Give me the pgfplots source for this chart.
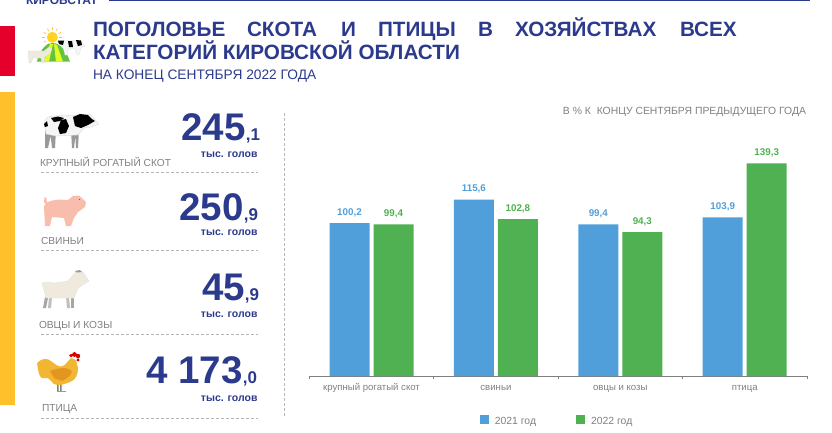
\documentclass[border=0pt]{standalone}
\usepackage{fontspec}
\setmainfont{Liberation Sans}
\usepackage{pgfplots}
\pgfplotsset{compat=1.18}
\definecolor{navy}{HTML}{2B3A8C}
\definecolor{gr}{HTML}{808080}
\definecolor{blue21}{HTML}{509FDB}
\definecolor{green22}{HTML}{4FB152}
\definecolor{redbar}{HTML}{E4002B}
\definecolor{yel}{HTML}{FFC02B}
\definecolor{dashc}{HTML}{B5B5B5}
\definecolor{pigc}{HTML}{F9BDAE}
\definecolor{goatc}{HTML}{EFEADD}
\definecolor{hen}{HTML}{F3B632}
\definecolor{hend}{HTML}{E2961F}
\newcommand{\fs}[2]{\fontsize{#1}{#2}\selectfont}
\begin{document}
\begin{tikzpicture}[x=1pt,y=-1pt,
  tw/.style={inner sep=0pt,outer sep=0pt,anchor=base west},
  te/.style={inner sep=0pt,outer sep=0pt,anchor=base east}]
\path[use as bounding box] (0,0) rectangle (832,432);
\clip (0,0) rectangle (832,432);
\coordinate (ax) at (309.3,376);
% side bars and rules
\fill[redbar] (0,26) rectangle (15,76);
\fill[yel] (0,92) rectangle (15,405);
\fill[navy] (109,0) rectangle (810,1.3);
\node[tw,text=navy] at (26,4.5) {\fs{12}{14}\bfseries КИРОВСТАТ};
\foreach \yy in {172,250,334,418} \draw[dashc,densely dashed,line width=0.8pt] (41,\yy) -- (258,\yy);
\draw[dashc,densely dashed,line width=0.8pt] (284,113) -- (284,418);
% title
\foreach \xx/\w in {93/ПОГОЛОВЬЕ,247/СКОТА,341/И,378/ПТИЦЫ,478/В,515/ХОЗЯЙСТВАХ,680/ВСЕХ}
  \node[tw,text=navy] at (\xx,36.5) {\fs{20.7}{24}\bfseries \w};
\node[tw,text=navy] at (93,59.5) {\fs{20.7}{24}\bfseries КАТЕГОРИЙ КИРОВСКОЙ ОБЛАСТИ};
\node[tw,text=navy] at (93,79) {\fs{13.75}{15}НА КОНЕЦ СЕНТЯБРЯ 2022 ГОДА};
\node[te,text=gr] at (806,114) {\fs{10.4}{12}В \% К\ \ КОНЦУ СЕНТЯБРЯ ПРЕДЫДУЩЕГО ГОДА};
% left panel
\node[tw,text=gr] at (40,166) {\fs{10.2}{12}КРУПНЫЙ РОГАТЫЙ СКОТ};
\node[tw,text=gr] at (41,244) {\fs{10.2}{12}СВИНЬИ};
\node[tw,text=gr] at (39,328) {\fs{10.2}{12}ОВЦЫ И КОЗЫ};
\node[tw,text=gr] at (42,411) {\fs{10.2}{12}ПТИЦА};
\foreach \yy/\rr/\big/\small in {140.5/260/245/1,220.5/258/250/9,300.5/259/45/9,383.5/257/4 173/0}
  \node[te,text=navy] at (\rr,\yy) {\fs{38.5}{40}\bfseries \big{\fs{17}{20},\small}};
\foreach \yy in {157,235,317,401}
  \node[te,text=navy] at (257.5,\yy) {\fs{10.5}{12}\bfseries тыс. голов};
% cow
\fill[black!40] (45,130) -- (52,130) -- (48,148) -- (45,148) -- cycle (50,130) -- (56,130) -- (55,148) -- (52,148) -- cycle (71,130) -- (76,130) -- (74,148) -- (72,148) -- cycle (75,130) -- (79,130) -- (78,148) -- (76,148) -- cycle;
\fill[white!96!black,draw=black!18,line width=.3pt] (44,123) to[out=70,in=180] (52,116) -- (78,115) -- (90,114) -- (95,120) -- (99,124) -- (91,127) -- (84,128) -- (78,135) -- (56,136) -- (46,134) -- cycle;
\fill[black] (51,118) -- (58,116.5) -- (64,118) -- (60,121) -- (54,122) -- cycle;
\fill[black] (61,120) -- (66,119) -- (69,126) -- (66,133) -- (60,134) -- (58,128) -- cycle;
\fill[black] (73,117) -- (80,114) -- (88,115) -- (92,119) -- (95,121) -- (88,125) -- (81,128) -- (75,126) -- cycle;
\fill[black] (44,124) -- (47,121) -- (48,126) -- (45,127) -- cycle;
% pig
\fill[pigc] (44,207) to[out=85,in=190] (55,200) to[out=10,in=180] (68,200) -- (73,196) -- (79,195.5) -- (83,199) -- (86,202) -- (85,207) -- (78,212) -- (74,218) -- (71,226) -- (66,226) -- (64,218) -- (52,217) -- (50,226) -- (45,226) -- cycle;
\fill[pigc] (44,203) -- (44.5,197) -- (46.5,198) -- (47,203) -- cycle;
\fill[black!60] (79.5,199.5) circle (.7);
% goat
\fill[black!35] (71,297) -- (74,297) -- (74,308) -- (71,308) -- cycle;
\fill[black!35] (45,297) -- (48,298) -- (46,308) -- (43,308) -- cycle;
\fill[black!25] (66,297) -- (69,297) -- (70,308) -- (67,308) -- cycle (49,297) -- (52,297) -- (51,308) -- (48,308) -- cycle;
\fill[goatc,draw=black!12,line width=.3pt] (42,283) to[out=30,in=180] (55,283) -- (68,281) -- (74,274) -- (76,271) -- (83,272) -- (89,281) -- (84,284) -- (78,288) -- (74,298) -- (55,298) -- (46,298) -- cycle;
\fill[black!40] (75,271) -- (80,270) -- (82,272) -- (77,272.5) -- cycle;
% chicken
\fill[black!50] (57,384) rectangle (58.5,391) (60,384) rectangle (61.5,391);
\fill[black!40] (57,390.5) rectangle (66,392);
\fill[hen] (37,363) to[out=40,in=190] (44,359) to[out=10,in=200] (63,366) to[out=30,in=220] (71,358) -- (76,360) -- (78,368) to[out=270,in=20] (70,382) to[out=200,in=0] (57,385) to[out=180,in=20] (45,378) to[out=200,in=280] (37,363) -- cycle;
\fill[hend] (50,371) to[out=20,in=180] (66,368) -- (72,371) to[out=260,in=30] (62,381) -- (54,378) -- cycle;
\fill[red!85!black] (71,355.5) circle (1.8) (74.5,354.5) circle (2.4) (78,356) circle (2.2) (78,360) circle (1.6);
% header icon
\fill[yel!70!yellow] (52.3,37.3) circle (5.5);
\foreach \a in {0,30,...,330} \draw[yel,line width=.6pt] (52.3,37.3) ++(\a:7) -- ++(\a:3);
\fill[green22!80!lime] (36.7,61.7) .. controls (40,50) and (46,43) .. (52,43) .. controls (60,43) and (66,50) .. (70,61.7) -- cycle;
\fill[lime!60!yellow!85!white] (44,61.7) -- (50,44) -- (53,44) -- (49,61.7) -- cycle;
\fill[lime!60!yellow!85!white] (56,61.7) -- (54,44) -- (57,45) -- (63,61.7) -- cycle;
\fill[goatc,draw=black!15,line width=.2pt] (28,51) -- (44,51) -- (49,47) -- (52,49) -- (50,53) -- (45,57) -- (44,63) -- (42,63) -- (41,58) -- (33,58) -- (31,63) -- (29,63) -- cycle;
\fill[white!96!black,draw=black!15,line width=.2pt] (57,41) -- (80,40) -- (85,46) -- (81,48) -- (79,55) -- (77,55) -- (75,49) -- (68,49) -- (67,55) -- (65,55) -- (63,47) -- cycle;
\fill[black] (58,40.5) -- (64,40.5) -- (63,45) -- (59,44) -- cycle (68,41) -- (72,41) -- (73,47) -- (69,47) -- cycle (76,40) -- (81,40.5) -- (82,45) -- (78,46) -- cycle;
% chart
\begin{axis}[at={(ax)},anchor=south west,scale only axis,
  width=497.6pt,height=229pt,clip=false,
  xmin=-0.5,xmax=3.5,ymin=0,ymax=150,
  axis x line=bottom,axis y line=none,
  axis line style={gr,line width=.7pt,-},
  ybar=4pt,bar width=40pt,
  xtick={0,1,2,3},
  xticklabels={крупный рогатый скот,свиньи,овцы и козы,птица},
  minor xtick={-0.5,0.5,1.5,2.5,3.5},
  major tick length=0pt,
  minor tick length=3pt,
  tick align=outside,
  every minor tick/.style={gr,line width=.7pt},
  x tick label style={font=\fs{9.6}{11},text=gr,yshift=-14pt,anchor=base},
  nodes near coords,
  every node near coord/.append style={font=\fs{9.8}{11}\bfseries,yshift=2.5pt},
  /pgf/number format/.cd,fixed,fixed zerofill,precision=1,use comma,assume math mode=true,
  /pgfplots/.cd,
  legend columns=2,
  legend style={at={(0.498,-0.197)},anchor=center,draw=none,fill=none,font=\fs{10.4}{12},text=gr,
    /tikz/every even column/.append style={column sep=38pt}},
  legend image code/.code={\fill[#1] (0pt,-2.5pt) rectangle (9pt,6.5pt); \path (0pt,0pt) -- (13pt,0pt);},
]
\addplot[draw=none,fill=blue21,nodes near coords style={text=blue21}] coordinates {(0,100.2) (1,115.6) (2,99.4) (3,103.9)};
\addplot[draw=none,fill=green22,nodes near coords style={text=green22}] coordinates {(0,99.4) (1,102.8) (2,94.3) (3,139.3)};
\legend{2021 год,2022 год}
\end{axis}
\end{tikzpicture}
\end{document}
